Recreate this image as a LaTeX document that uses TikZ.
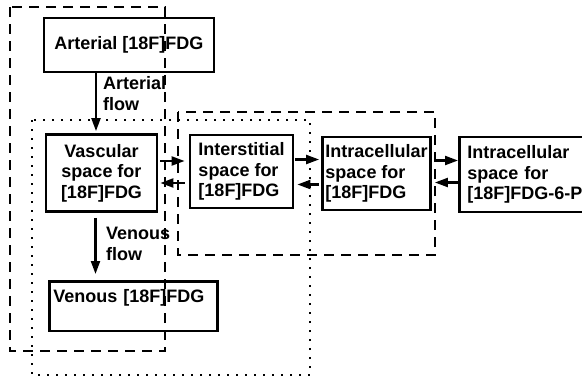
\documentclass[tikz,border=0pt]{standalone}
\usepackage{fontspec}
\setmainfont{Liberation Sans}
\usepackage{tikz}
\usetikzlibrary{positioning,arrows.meta}

\begin{document}
\begin{tikzpicture}[
x=1pt, y=-1pt,
box/.style={draw, line width=2.8pt, align=left, inner ysep=6pt, font=\fontsize{18}{20.5}\selectfont\bfseries},
lbl/.style={inner sep=0pt, align=left, anchor=north west, font=\fontsize{18}{21}\selectfont\bfseries},
arrow/.style={-{Triangle[length=13pt,width=9pt]}, line width=2.2pt},
region/.style={line width=1.8pt, dash pattern=on 10pt off 7pt},
dotregion/.style={line width=2pt, dash pattern=on 2pt off 7pt}
]
\clip (0,0) rectangle (582,381);
\useasboundingbox (0,0) rectangle (582,381);
% compartments
\node[box, minimum width=170pt, minimum height=54pt] (arterial) at (129,45) {Arterial [18F]FDG};
\node[box, align=center, minimum width=111pt, minimum height=77pt] (vascular) at (101.5,173) {Vascular\\space for\\{}[18F]FDG};
\node[box, minimum width=103pt, minimum height=73pt] (interstitial) at (241.5,171.5) {Interstitial\\space for\\{}[18F]FDG};
\node[box, inner xsep=3pt, minimum width=103pt, minimum height=73pt] (intracell) at (376.5,173.5) {Intracellular\\space for\\{}[18F]FDG};
\node[box, anchor=west, text width=124pt, inner xsep=8pt, minimum height=75pt] (phos) at (458,174.5) {Intracellular\\space for\\{}[18F]FDG-6-P};
\node[box, anchor=north west, text width=160pt, inner xsep=4pt, inner ysep=8pt] (venous) at (48,280) {Venous [18F]FDG\\\mbox{}};
% flow labels
\node[lbl] (artflow) at (103,76) {Arterial\\flow};
\node[lbl] (venflow) at (106,227) {Venous\\flow};
% flows
\draw[arrow, shorten >=2pt] ([xshift=-33pt]arterial.south) -- ([xshift=-33pt]arterial.south |- vascular.north);
\draw[arrow, shorten <=5pt, shorten >=6pt] ([xshift=-6pt]vascular.south) -- ([xshift=-6pt]vascular.south |- venous.north);
\draw[arrow, shorten <=2pt, shorten >=4pt] ([yshift=12pt]vascular.east) -- ([yshift=12pt]vascular.east -| interstitial.west);
\draw[arrow, shorten <=4pt, shorten >=2pt] ([yshift=-10pt]vascular.east -| interstitial.west) -- ([yshift=-10pt]vascular.east);
\draw[arrow, shorten <=1pt, shorten >=2pt] ([yshift=12pt]interstitial.east) -- ([yshift=12pt]interstitial.east -| intracell.west);
\draw[arrow, shorten <=2pt, shorten >=3pt] ([yshift=-13pt]interstitial.east -| intracell.west) -- ([yshift=-13pt]interstitial.east);
\draw[arrow, shorten <=4pt] ([yshift=13pt]intracell.east) -- ([yshift=13pt]intracell.east -| phos.west);
\draw[arrow, shorten >=3pt] ([yshift=-9pt]intracell.east -| phos.west) -- ([yshift=-9pt]intracell.east);
% regions
\draw[region] (10,7) rectangle (165,351);
\draw[dotregion] (32,120) rectangle (310,375);
\draw[region] (178,112) rectangle (435,255);
\end{tikzpicture}
\end{document}
